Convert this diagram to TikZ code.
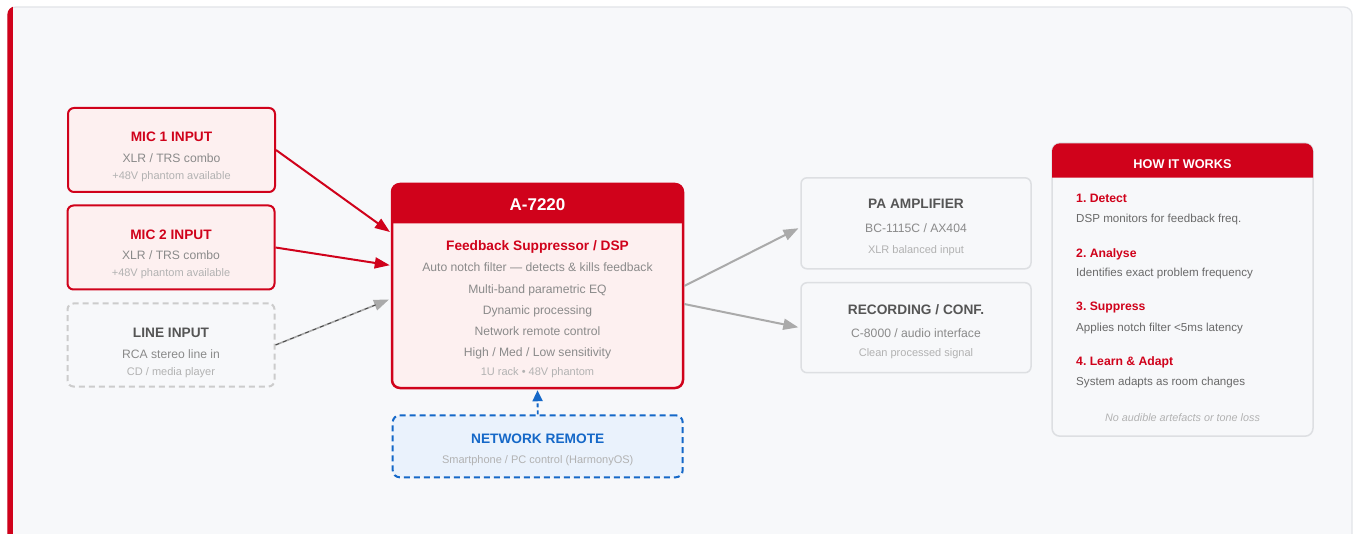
\documentclass[tikz,border=0pt]{standalone}
\usepackage{fontspec}
\setmainfont{Liberation Sans}
\usetikzlibrary{arrows.meta, positioning, calc}
\definecolor{SuppRed}{RGB}{208, 2, 27}
\definecolor{SuppPink}{RGB}{253, 240, 240}
\definecolor{PanelBg}{RGB}{247, 248, 250}
\definecolor{PanelLine}{RGB}{226, 228, 232}
\definecolor{BoxLine}{RGB}{221, 223, 226}
\definecolor{DashGray}{RGB}{204, 204, 204}
\definecolor{TitleGray}{RGB}{85, 85, 85}
\definecolor{TextGray}{RGB}{138, 138, 138}
\definecolor{TextLight}{RGB}{178, 178, 178}
\definecolor{StepGray}{RGB}{105, 105, 105}
\definecolor{ArrowGray}{RGB}{170, 170, 170}
\definecolor{RemoteBlue}{RGB}{21, 104, 200}
\definecolor{RemoteFill}{RGB}{234, 242, 252}
\frenchspacing

\begin{document}
\begin{tikzpicture}[x=1pt, y=-1pt,
    box/.style={rectangle, rounded corners=6pt, line width=2pt, inner sep=0pt},
    ttl/.style={anchor=base, font=\fontsize{13.7}{16}\selectfont\bfseries},
    sub/.style={anchor=base, font=\fontsize{12.15}{14}\selectfont, text=TextGray},
    note/.style={anchor=base, font=\fontsize{11}{13}\selectfont, text=TextLight},
    stephead/.style={anchor=base west, inner sep=0pt, font=\fontsize{12.2}{14}\selectfont\bfseries, text=SuppRed},
    steptext/.style={anchor=base west, inner sep=0pt, font=\fontsize{11.6}{14}\selectfont, text=StepGray},
    redarrow/.style={-{Triangle[length=15pt, width=11pt]}, line width=2pt, SuppRed, shorten >=1pt},
    grayarrow/.style={-{Triangle[length=15pt, width=11pt]}, line width=2pt, ArrowGray, shorten >=2pt}]
  \useasboundingbox (0,0) rectangle (1356,534);
  \fill[white] (0,0) rectangle (1356,534);
  % outer panel with red edge
  \draw[PanelLine, fill=PanelBg, line width=1.2pt, rounded corners=8pt] (8,7) rectangle (1352,560);
  \begin{scope}
    \clip[rounded corners=8pt] (7.4,6.4) rectangle (1352,560);
    \fill[SuppRed] (7,6) rectangle (12.5,560);
  \end{scope}

  % inputs
  \node[box, draw=SuppRed, fill=SuppPink, minimum width=207, minimum height=84] (mic1) at (171.5,150) {};
  \node[ttl, text=SuppRed] (mic1Title) at (171.5,141.5) {MIC 1 INPUT};
  \node[sub] (mic1Sub) at (171.5,162.3) {XLR / TRS combo};
  \node[note] (mic1Note) at (171.5,180) {+48V phantom available};

  \node[box, draw=SuppRed, fill=SuppPink, minimum width=207, minimum height=84] (mic2) at (171,247.5) {};
  \node[ttl, text=SuppRed] (mic2Title) at (171,239.3) {MIC 2 INPUT};
  \node[sub] (mic2Sub) at (171,260) {XLR / TRS combo};
  \node[note] (mic2Note) at (171,276.7) {+48V phantom available};

  \node[box, draw=DashGray, fill=PanelBg, dash pattern=on 6pt off 4pt, minimum width=207, minimum height=83] (line) at (171,345) {};
  \node[ttl, text=TitleGray] (lineTitle) at (171,337.3) {LINE INPUT};
  \node[sub] (lineSub) at (171,358.3) {RCA stereo line in};
  \node[note] (lineNote) at (171,375) {CD / media player};

  % processor
  \node[box, draw=SuppRed, fill=SuppPink, line width=2.5pt, rounded corners=8pt, minimum width=291, minimum height=204] (dsp) at (537.5,286) {};
  \fill[SuppRed] (392,223.3) [rounded corners=8pt] -- (392,184) -- (683,184) [sharp corners] -- (683,223.3) -- cycle;
  \node[anchor=base, font=\fontsize{17}{20}\selectfont\bfseries, text=white] (dspName) at (537.5,211) {A-7220};
  \node[ttl, text=SuppRed] (dspTitle) at (537.5,251) {Feedback Suppressor / DSP};
  \node[sub] (dspA) at (537.5,272) {Auto notch filter — detects \& kills feedback};
  \node[sub] (dspB) at (537.5,293.3) {Multi-band parametric EQ};
  \node[sub] (dspC) at (537.5,314.3) {Dynamic processing};
  \node[sub] (dspD) at (537.5,335) {Network remote control};
  \node[sub] (dspE) at (537.5,356) {High / Med / Low sensitivity};
  \node[note] (dspNote) at (537.5,375) {1U rack • 48V phantom};

  % remote
  \node[box, draw=RemoteBlue, fill=RemoteFill, dash pattern=on 6pt off 4pt, rounded corners=7pt, minimum width=290, minimum height=62] (remote) at (537.7,446.3) {};
  \node[ttl, text=RemoteBlue] (remoteTitle) at (537.7,443.3) {NETWORK REMOTE};
  \node[note] (remoteNote) at (537.7,463.3) {Smartphone / PC control (HarmonyOS)};

  % outputs
  \node[box, draw=BoxLine, fill=PanelBg, line width=1.5pt, minimum width=230, minimum height=91] (pa) at (916,223.3) {};
  \node[ttl, text=TitleGray] (paTitle) at (916,209) {PA AMPLIFIER};
  \node[sub] (paSub) at (916,232.7) {BC-1115C / AX404};
  \node[note] (paNote) at (916,253.3) {XLR balanced input};

  \node[box, draw=BoxLine, fill=PanelBg, line width=1.5pt, minimum width=230, minimum height=90] (rec) at (916,327.7) {};
  \node[ttl, text=TitleGray] (recTitle) at (916,314.3) {RECORDING / CONF.};
  \node[sub] (recSub) at (916,337.3) {C-8000 / audio interface};
  \node[note] (recNote) at (916,356) {Clean processed signal};

  % connectors
  \draw[redarrow] (mic1.east) -- (dsp.160);
  \draw[redarrow] (mic2.east) -- (dsp.172);
  \draw[grayarrow, line width=1.6pt] (line.east) -- (dsp.185.5);
  \draw[black!75, line width=0.8pt, dash pattern=on 4pt off 4pt, shorten >=15pt] (line.east) -- (dsp.185.5);
  \draw[grayarrow] (dsp.east) -- (pa.182);
  \draw[grayarrow] (dsp.353) -- (rec.west);
  \draw[-{Triangle[length=11pt, width=10pt]}, RemoteBlue, line width=1.8pt, dash pattern=on 4pt off 3pt, shorten >=1pt] (remote.north) -- (dsp.south);

  % how it works
  \node[box, draw=BoxLine, fill=PanelBg, line width=1.5pt, rounded corners=8pt, minimum width=261, minimum height=293] (how) at (1182.5,289.7) {};
  \fill[SuppRed] (1052,177.7) [rounded corners=8pt] -- (1052,143.3) -- (1313,143.3) [sharp corners] -- (1313,177.7) -- cycle;
  \node[anchor=base, font=\fontsize{12.7}{15}\selectfont\bfseries, text=white] (howTitle) at (1182.5,168.3) {HOW IT WORKS};
  \node[stephead] (stepA) at (1076,202.3) {1. Detect};
  \node[steptext] (stepAText) at (1076,222.7) {DSP monitors for feedback freq.};
  \node[stephead] (stepB) at (1076,257.3) {2. Analyse};
  \node[steptext] (stepBText) at (1076,276.7) {Identifies exact problem frequency};
  \node[stephead] (stepC) at (1076,311) {3. Suppress};
  \node[steptext] (stepCText) at (1076,331) {Applies notch filter <5ms latency};
  \node[stephead] (stepD) at (1076,365) {4. Learn \& Adapt};
  \node[steptext] (stepDText) at (1076,385) {System adapts as room changes};
  \node[anchor=base, font=\fontsize{10.8}{13}\selectfont\itshape, text=TextLight] (howNote) at (1182.5,421.7) {No audible artefacts or tone loss};
\end{tikzpicture}
\end{document}
